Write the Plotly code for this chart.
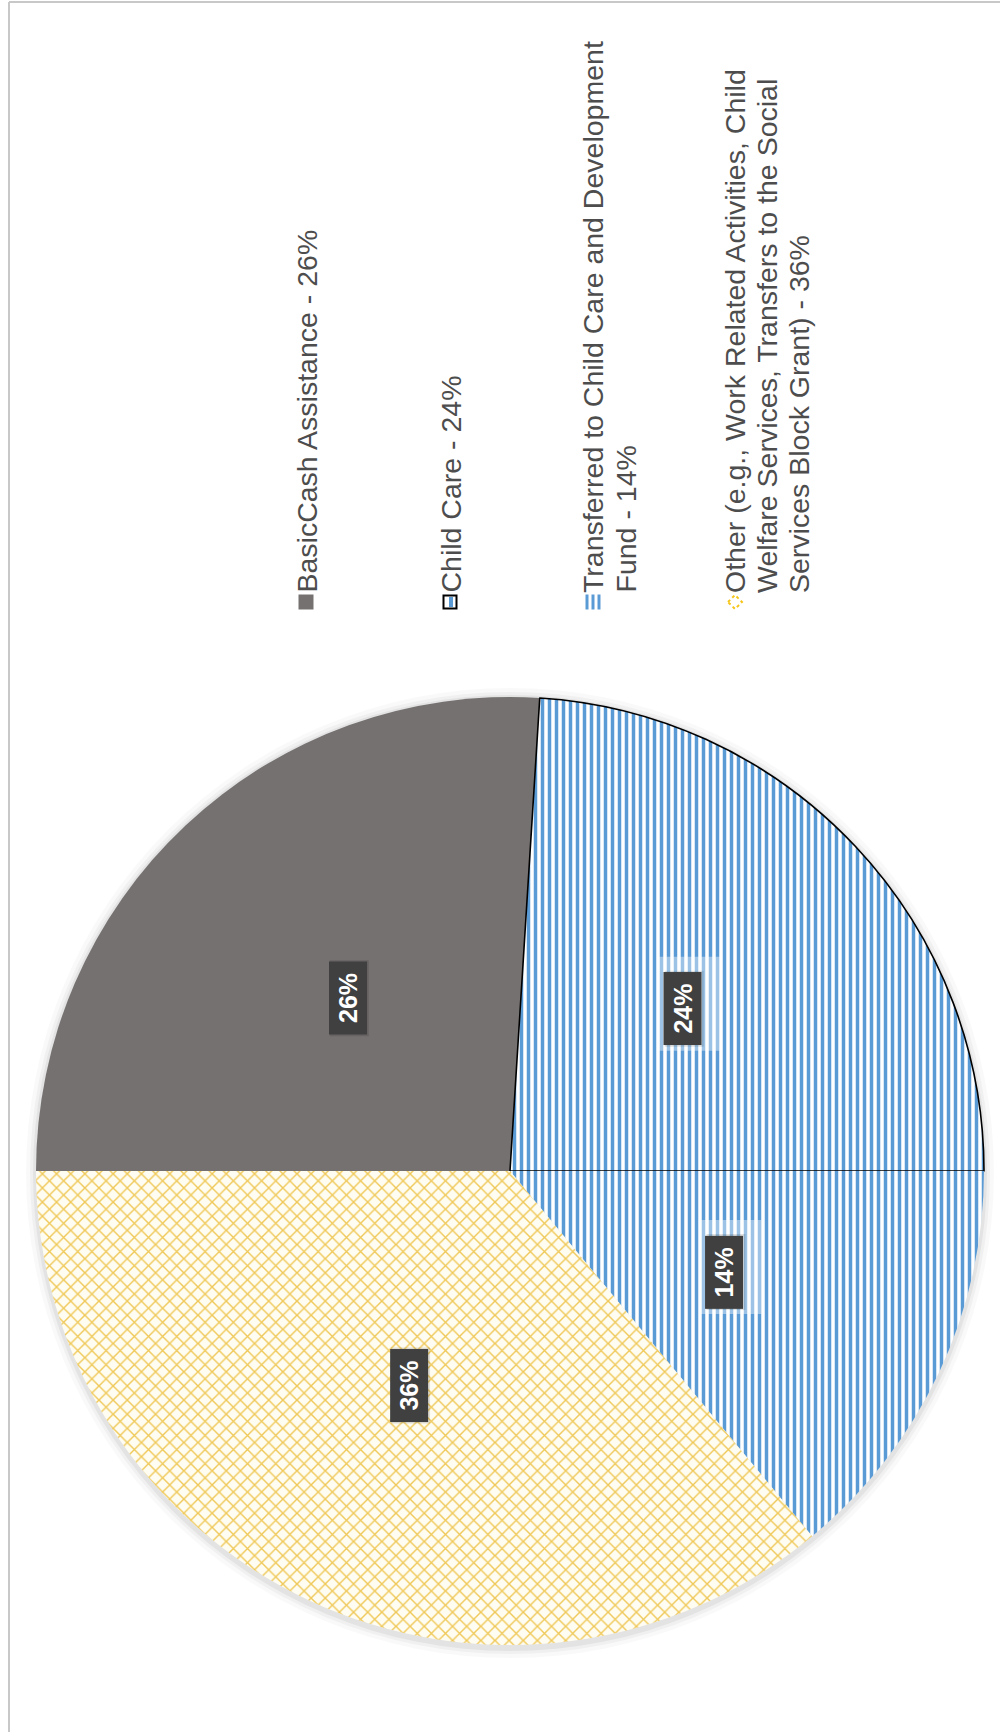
import math
import plotly.graph_objects as go

# ---- data ----
categories = [
    "BasicCash Assistance",
    "Child Care",
    "Transferred to Child Care and Development Fund",
    "Other (e.g., Work Related Activities, Child Welfare Services, Transfers to the Social Services Block Grant)",
]
values = [26, 24, 14, 36]
pct_labels = ["26%", "24%", "14%", "36%"]
legend_lines = [
    ["BasicCash Assistance - 26%"],
    ["Child Care - 24%"],
    ["Transferred to Child Care and Development", "Fund - 14%"],
    ["Other (e.g., Work Related Activities, Child", "Welfare Services, Transfers to the Social", "Services Block Grant) - 36%"],
]

W, H = 1000, 1732
FONT = "Arial, Liberation Sans, sans-serif"

# pie geometry (pixels)
CX, CY, R = 510, 1171, 474
START = -90  # first slice starts at 9 o'clock, goes clockwise


def px(x):
    return x / W


def py(y):
    return 1 - y / H


fig = go.Figure()
fig.add_trace(go.Pie(
    labels=categories,
    values=values,
    sort=False,
    direction="clockwise",
    rotation=START,
    textinfo="none",
    hoverinfo="label+percent",
    showlegend=False,
    domain=dict(x=[px(CX - R), px(CX + R)], y=[py(CY + R), py(CY - R)]),
    marker=dict(
        colors=["#767171", "#FFFFFF", "#FFFFFF", "#FFFDF2"],
        line=dict(color=["rgba(0,0,0,0)", "#000000", "rgba(0,0,0,0)", "rgba(0,0,0,0)"],
                  width=[0, 1.6, 0, 0]),
        pattern=dict(
            shape=["", "|", "|", "x"],
            fgcolor=["#767171", "#5B9BD5", "#5B9BD5", "#EFC857"],
            bgcolor=["#767171", "#FFFFFF", "#FFFFFF", "#FFFDF2"],
            size=[8, 7, 7, 10],
            solidity=[0.5, 0.5, 0.5, 0.26],
        ),
    ),
))

annotations = []
shapes = []

# soft shadow around the pie
for dr, alpha in ((10, 0.025), (6, 0.035), (3, 0.05)):
    shapes.append(dict(type="circle", xref="paper", yref="paper", layer="below",
                       x0=px(CX - R - dr), x1=px(CX + R + dr),
                       y0=py(CY + R + dr + 3), y1=py(CY - R - dr + 1),
                       fillcolor=f"rgba(0,0,0,{alpha})", line=dict(width=0)))

# percentage labels at half radius along each slice's mid-angle
total = sum(values)
acc = 0
for i, (v, lab) in enumerate(zip(values, pct_labels)):
    mid = START + (acc + v / 2) / total * 360
    acc += v
    a = math.radians(mid)
    lx = CX + 0.5 * R * math.sin(a)
    ly = CY - 0.5 * R * math.cos(a)
    if i in (1, 2):
        # light halo behind label on striped slices
        shapes.append(dict(type="rect", xref="paper", yref="paper", layer="above",
                           x0=px(lx - 24), x1=px(lx + 37), y0=py(ly + 42), y1=py(ly - 52),
                           fillcolor="rgba(255,255,255,0.4)", line=dict(width=0)))
    # soft shadow for label box
    shapes.append(dict(type="rect", xref="paper", yref="paper", layer="above",
                       x0=px(lx - 18), x1=px(lx + 21), y0=py(ly + 38), y1=py(ly - 38),
                       fillcolor="rgba(0,0,0,0.12)", line=dict(width=0)))
    annotations.append(dict(
        x=px(lx), y=py(ly), xref="paper", yref="paper",
        text=f"<b>{lab}</b>", showarrow=False, textangle=-90,
        font=dict(family=FONT, size=25, color="white"),
        bgcolor="#404040", width=72, height=37, borderpad=0,
        xanchor="center", yanchor="middle",
    ))

# legend (rotated)
item_x = [306, 450, 593, 735]
LINE_GAP = 32
TEXT_BOTTOM = 594
ICON_Y = 602
for ix, lines in zip(item_x, legend_lines):
    for k, line in enumerate(lines):
        annotations.append(dict(
            x=px(ix + k * LINE_GAP), y=py(TEXT_BOTTOM), xref="paper", yref="paper",
            text=line, showarrow=False, textangle=-90,
            font=dict(family=FONT, size=28.5, color="#4D4D4D"),
            xanchor="center", yanchor="bottom", borderpad=0,
        ))

# legend icons
s = 7.5
shapes.append(dict(type="rect", xref="paper", yref="paper",
                   x0=px(item_x[0] - s), x1=px(item_x[0] + s), y0=py(ICON_Y + s), y1=py(ICON_Y - s),
                   fillcolor="#767171", line=dict(width=0)))
shapes.append(dict(type="rect", xref="paper", yref="paper",
                   x0=px(item_x[1] - s + 1), x1=px(item_x[1] + s - 1), y0=py(ICON_Y + s - 1), y1=py(ICON_Y - s + 1),
                   fillcolor="white", line=dict(color="black", width=2)))
shapes.append(dict(type="rect", xref="paper", yref="paper",
                   x0=px(item_x[1] - 1), x1=px(item_x[1] + 3), y0=py(ICON_Y + s - 2.5), y1=py(ICON_Y - s + 2.5),
                   fillcolor="#5B9BD5", line=dict(width=0)))
for dx in (-6, 0, 6):
    shapes.append(dict(type="rect", xref="paper", yref="paper",
                       x0=px(item_x[2] + dx - 1.5), x1=px(item_x[2] + dx + 1.5), y0=py(ICON_Y + s), y1=py(ICON_Y - s),
                       fillcolor="#5B9BD5", line=dict(width=0)))
d = 7
ix = item_x[3]
path = (f"M {px(ix - d)} {py(ICON_Y)} L {px(ix)} {py(ICON_Y - d)} "
        f"L {px(ix + d)} {py(ICON_Y)} L {px(ix)} {py(ICON_Y + d)} Z")
shapes.append(dict(type="path", xref="paper", yref="paper", path=path,
                   fillcolor="rgba(0,0,0,0)", line=dict(color="#F5C518", width=2, dash="dot")))

# chart border (top and left visible)
shapes.append(dict(type="line", xref="paper", yref="paper", x0=px(9), x1=1, y0=py(2), y1=py(2),
                   line=dict(color="#C8C8C8", width=2)))
shapes.append(dict(type="line", xref="paper", yref="paper", x0=px(9), x1=px(9), y0=py(2), y1=0,
                   line=dict(color="#C8C8C8", width=2)))

fig.update_layout(
    width=W, height=H,
    margin=dict(l=0, r=0, t=0, b=0),
    paper_bgcolor="white",
    plot_bgcolor="white",
    annotations=annotations,
    shapes=shapes,
    showlegend=False,
)

fig.write_html("out.html", config={"displayModeBar": False},
               post_script="document.body.style.margin='0';document.body.style.overflow='hidden';")
